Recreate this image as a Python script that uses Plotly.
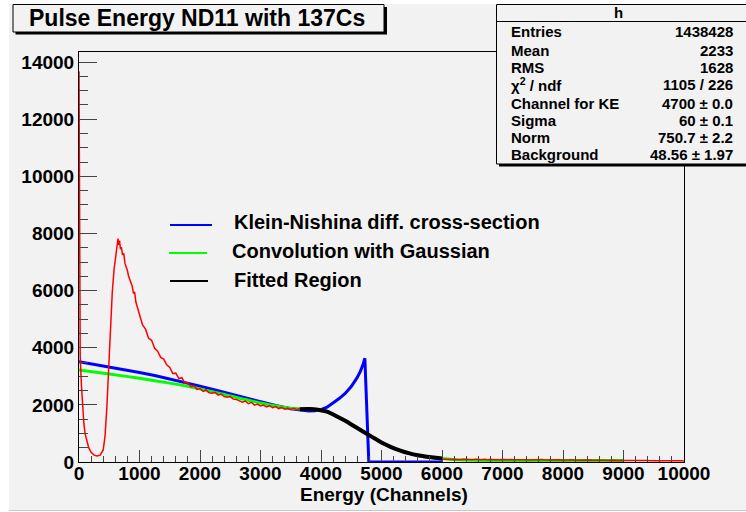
import plotly.graph_objects as go

# ---------------------------------------------------------------- data
# Pulse-energy spectrum of detector ND11 with a 137Cs source (counts per bin)
fine_channel = [0, 8, 20, 40, 60, 80, 100, 130, 160, 200, 250, 300, 350, 400,
                430, 460, 490, 520, 550, 580, 610, 630, 645, 655, 670, 685,
                700, 720, 740, 760, 780, 800, 820, 840, 860, 880, 900, 920,
                940, 960, 980, 1000]
fine_counts = [13680, 4700, 3700, 2700, 1900, 1350, 1000, 700, 500, 340, 240,
               215, 240, 420, 900, 1900, 3400, 4800, 5950, 6750, 7350, 7550,
               7820, 7600, 7750, 7450, 7520, 7250, 7300, 6950, 6850, 6700,
               6500, 6400, 6250, 6150, 5900, 5950, 5600, 5450, 5300, 5150]

coarse_channel = list(range(1050, 10001, 50))
coarse_counts = [
    4800, 4650, 4330, 4260, 3980, 3880, 3660, 3600, 3400, 3310,   # 1050-1500
    3100, 3110, 2920, 2950, 2760, 2780, 2630, 2670, 2540, 2570,   # 1550-2000
    2470, 2520, 2420, 2410, 2440, 2340, 2380, 2290, 2270, 2290,   # 2050-2500
    2200, 2190, 2140, 2090, 2130, 2040, 2090, 1990, 2030, 1960,   # 2550-3000
    1990, 1930, 1970, 1900, 1940, 1870, 1910, 1850, 1890, 1840,   # 3050-3500
    1880, 1830, 1870, 1840, 1880, 1850, 1870, 1830, 1850, 1800,   # 3550-4000
    1790, 1750, 1710, 1650, 1610, 1550, 1500, 1430, 1390, 1310,   # 4050-4500
    1260, 1180, 1130, 1050, 1010, 930, 880, 800, 740, 670,        # 4550-5000
    620, 560, 520, 460, 420, 380, 340, 300, 280, 250,             # 5050-5500
    220, 210, 185, 170, 150, 140, 125, 115, 105, 100,             # 5550-6000
    95, 90, 105, 85, 95, 80, 100, 85, 90, 80,                     # 6050-6500
    95, 85, 80, 95, 75, 90, 80, 85, 75, 90,                       # 6550-7000
    80, 70, 85, 75, 80, 70, 85, 75, 70, 80,                       # 7050-7500
    70, 75, 85, 70, 75, 65, 80, 70, 75, 65,                       # 7550-8000
    75, 70, 80, 65, 70, 60, 75, 65, 70, 60,                       # 8050-8500
    65, 70, 60, 65, 55, 65, 60, 55, 60, 55,                       # 8550-9000
    60, 50, 55, 50, 55, 45, 50, 50, 45, 50,                       # 9050-9500
    40, 45, 45, 40, 45, 40, 40, 35, 40, 35,                       # 9550-10000
]
channel = fine_channel + coarse_channel
counts = fine_counts + coarse_counts
assert len(channel) == len(counts)

# Klein-Nishina differential cross-section (scaled)
kn_channel = [0, 250, 500, 750, 1000, 1250, 1500, 1750, 2000, 2250, 2500,
              2750, 3000, 3250, 3500, 3800, 3900, 4000, 4100, 4200, 4300,
              4400, 4500, 4600, 4650, 4700, 4725, 4790, 6000]
kn_value = [3510, 3420, 3330, 3235, 3130, 3025, 2910, 2785, 2655, 2520, 2380,
            2240, 2100, 1975, 1865, 1785, 1795, 1830, 1920, 2060, 2220,
            2400, 2640, 2960, 3170, 3450, 3630, 0, 0]

# Klein-Nishina convolved with the detector resolution
conv_channel = [0, 500, 1000, 1500, 2000, 2500, 3000, 3500, 3800, 4000,
                4200, 4500, 4750, 5000, 5250, 5500, 5750, 6000, 6250, 6500,
                7000, 8000, 9000]
conv_value = [3220, 3080, 2930, 2760, 2560, 2310, 2065, 1880, 1850, 1815,
              1650, 1330, 1000, 680, 445, 275, 175, 120, 80, 60, 52, 50, 49]

# Fit over the Compton-edge region
fit_channel = [3650, 3800, 3950, 4100, 4250, 4400, 4550, 4700, 4850, 5000,
               5150, 5300, 5450, 5600, 5750, 5900, 6000]
fit_value = [1850, 1855, 1830, 1760, 1610, 1440, 1250, 1060, 870, 680,
             530, 410, 310, 235, 185, 145, 125]

x_ticks = list(range(0, 10001, 1000))
y_ticks = list(range(0, 14001, 2000))

legend_labels = ["Klein-Nishina diff. cross-section",
                 "Convolution with Gaussian",
                 "Fitted Region"]
stats_rows = [("Entries", "1438428"),
              ("Mean", "2233"),
              ("RMS", "1628"),
              ("χ<sup>2</sup> / ndf", "1105 / 226"),
              ("Channel for KE", "4700 ± 0.0"),
              ("Sigma", "60 ± 0.1"),
              ("Norm", "750.7 ± 2.2"),
              ("Background", "48.56 ± 1.97")]

# ---------------------------------------------------------------- layout helpers
W, H = 746, 512
L, R, T, B = 79, 684, 52, 462          # frame edges in pixels
FONT = "Liberation Sans"
BG = "#f2f2f2"


def fx(p):
    return (p - L) / (R - L)


def fy(p):
    return (B - p) / (B - T)


fig = go.Figure()

fig.add_trace(go.Scatter(x=kn_channel, y=kn_value, mode="lines",
                         line=dict(color="#0000ff", width=3), showlegend=False))
fig.add_trace(go.Scatter(x=conv_channel, y=conv_value, mode="lines",
                         line=dict(color="#00ff00", width=3, shape="spline", smoothing=0.6),
                         showlegend=False))
fig.add_trace(go.Scatter(x=channel, y=counts, mode="lines",
                         line=dict(color="#ff0000", width=1.5), showlegend=False))
fig.add_trace(go.Scatter(x=fit_channel, y=fit_value, mode="lines",
                         line=dict(color="#000000", width=4, shape="spline", smoothing=0.6),
                         showlegend=False))

shapes = []
# canvas
shapes.append(dict(type="rect", xref="paper", yref="paper", layer="below",
                   x0=fx(9), x1=fx(760), y0=fy(510), y1=fy(4),
                   fillcolor=BG, line=dict(width=0)))
shapes.append(dict(type="line", xref="paper", yref="paper", layer="below",
                   x0=fx(9), x1=fx(760), y0=fy(510.5), y1=fy(510.5),
                   line=dict(color="#c8c8c8", width=1)))
# title box with shadow
shapes.append(dict(type="rect", xref="paper", yref="paper", layer="above",
                   x0=fx(15.5), x1=fx(387), y0=fy(34.5), y1=fy(7),
                   fillcolor="#000000", line=dict(width=0)))
shapes.append(dict(type="rect", xref="paper", yref="paper", layer="above",
                   x0=fx(13), x1=fx(384), y0=fy(32), y1=fy(4.5),
                   fillcolor=BG, line=dict(color="#000000", width=1)))
# statistics box with shadow
shapes.append(dict(type="rect", xref="paper", yref="paper", layer="above",
                   x0=fx(499), x1=fx(760), y0=fy(166.5), y1=fy(7),
                   fillcolor="#000000", line=dict(width=0)))
shapes.append(dict(type="rect", xref="paper", yref="paper", layer="above",
                   x0=fx(496.5), x1=fx(760), y0=fy(164), y1=fy(4.5),
                   fillcolor=BG, line=dict(color="#000000", width=1)))
shapes.append(dict(type="line", xref="paper", yref="paper", layer="above",
                   x0=fx(496.5), x1=fx(760), y0=fy(21.5), y1=fy(21.5),
                   line=dict(color="#000000", width=1)))

# legend entries
legend_colors = ["#0000ff", "#00ff00", "#000000"]
legend_y = [225, 253, 281]
legend_ty = [222, 251, 280]
legend_x0 = [170, 169, 170]
legend_x1 = [212, 207, 208]
legend_tx = [232, 230, 232]
annotations = []
for lbl, col, yy, ty, a, b, tx in zip(legend_labels, legend_colors, legend_y,
                                      legend_ty, legend_x0, legend_x1, legend_tx):
    shapes.append(dict(type="line", xref="paper", yref="paper", layer="above",
                       x0=fx(a), x1=fx(b), y0=fy(yy), y1=fy(yy),
                       line=dict(color=col, width=2)))
    annotations.append(dict(xref="paper", yref="paper", x=fx(tx), y=fy(ty),
                            text=lbl, showarrow=False, xanchor="left", yanchor="middle",
                            font=dict(family=FONT, size=20, color="#000000", weight="bold")))

# title
annotations.append(dict(xref="paper", yref="paper", x=fx(197), y=fy(18.5),
                        text="Pulse Energy ND11 with 137Cs", showarrow=False,
                        xanchor="center", yanchor="middle",
                        font=dict(family=FONT, size=23, color="#000000", weight="bold")))
# x-axis title
annotations.append(dict(xref="paper", yref="paper", x=fx(384), y=fy(494),
                        text="Energy (Channels)", showarrow=False,
                        xanchor="center", yanchor="middle",
                        font=dict(family=FONT, size=19, color="#000000", weight="bold")))
# statistics box text
annotations.append(dict(xref="paper", yref="paper", x=fx(618), y=fy(12.5),
                        text="h", showarrow=False, xanchor="center", yanchor="middle",
                        font=dict(family=FONT, size=15, color="#000000", weight="bold")))
row_y = [32, 50, 67, 85, 103, 120, 137, 154]
for (name, val), yy in zip(stats_rows, row_y):
    annotations.append(dict(xref="paper", yref="paper", x=fx(509), y=fy(yy),
                            text=name, showarrow=False, xanchor="left", yanchor="middle",
                            font=dict(family=FONT, size=15, color="#000000", weight="bold")))
    annotations.append(dict(xref="paper", yref="paper", x=fx(735), y=fy(yy),
                            text=val, showarrow=False, xanchor="right", yanchor="middle",
                            font=dict(family=FONT, size=15, color="#000000", weight="bold")))

tick_font = dict(family=FONT, size=19, color="#000000", weight="bold")
fig.update_layout(
    width=W, height=H,
    margin=dict(l=L, r=W - R, t=T, b=H - B, pad=0),
    paper_bgcolor="#ffffff",
    plot_bgcolor="rgba(0,0,0,0)",
    shapes=shapes,
    annotations=annotations,
    showlegend=False,
    xaxis=dict(range=[0, 10000], tickvals=x_ticks, ticktext=[str(v) for v in x_ticks],
               ticks="inside", ticklen=12, tickwidth=1, tickcolor="#444444",
               ticklabelstandoff=-6,
               minor=dict(dtick=200, ticks="inside", ticklen=6, tickwidth=1,
                          tickcolor="#444444", showgrid=False),
               showline=True, linecolor="#000000", linewidth=1, mirror=True,
               showgrid=False, zeroline=False, tickfont=tick_font),
    yaxis=dict(range=[0, 14350], tickvals=y_ticks, ticktext=[str(v) for v in y_ticks],
               ticks="inside", ticklen=18, tickwidth=1, tickcolor="#444444",
               minor=dict(dtick=500, ticks="inside", ticklen=9, tickwidth=1,
                          tickcolor="#444444", showgrid=False),
               showline=True, linecolor="#000000", linewidth=1, mirror=True,
               showgrid=False, zeroline=False, tickfont=tick_font),
)

fig.write_html("out.html")
